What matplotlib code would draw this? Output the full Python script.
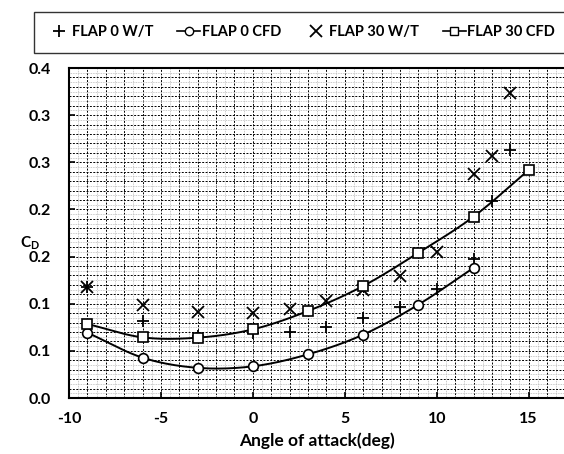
import numpy as np
import matplotlib
matplotlib.use("Agg")
import matplotlib.pyplot as plt
from matplotlib.ticker import MultipleLocator

plt.rcParams['font.family'] = ['Lato', 'DejaVu Sans']
plt.rcParams['font.weight'] = 'bold'
plt.rcParams['axes.unicode_minus'] = False

# wind tunnel data
wt0_aoa = [-9, -6, -3, 0, 2, 4, 6, 8, 10, 12, 13, 14]
wt0_cd = [0.118, 0.082, 0.066, 0.0686, 0.0704, 0.0756, 0.0852, 0.0962, 0.1156, 0.147, 0.2093, 0.263]
wt30_aoa = [-9, -6, -3, 0, 2, 4, 6, 8, 10, 12, 13, 14]
wt30_cd = [0.118, 0.0986, 0.0915, 0.0905, 0.094, 0.1032, 0.1145, 0.1294, 0.155, 0.2376, 0.2567, 0.323]

# CFD data
cfd0_aoa = [-9, -6, -3, 0, 3, 6, 9, 12]
cfd0_cd = [0.0693, 0.0428, 0.032, 0.0336, 0.0463, 0.0672, 0.099, 0.138]
cfd30_aoa = [-9, -6, -3, 0, 3, 6, 9, 12, 15]
cfd30_cd = [0.0785, 0.0643, 0.064, 0.0728, 0.0923, 0.1188, 0.154, 0.1923, 0.2418]

ytick_vals = [0.0, 0.05, 0.10, 0.15, 0.20, 0.25, 0.30, 0.35]
ytick_labels = ['0.0', '0.1', '0.1', '0.2', '0.2', '0.3', '0.3', '0.4']


def smooth(x, y, n=20):
    # catmull-rom style smoothing like excel's smoothed line
    x = np.asarray(x, float)
    y = np.asarray(y, float)
    px = np.concatenate([[2 * x[0] - x[1]], x, [2 * x[-1] - x[-2]]])
    py = np.concatenate([[2 * y[0] - y[1]], y, [2 * y[-1] - y[-2]]])
    xs, ys = [], []
    t = np.linspace(0, 1, n)
    for i in range(1, len(px) - 2):
        for p, out in ((px, xs), (py, ys)):
            p0, p1, p2, p3 = p[i - 1], p[i], p[i + 1], p[i + 2]
            out.extend(0.5 * ((2 * p1) + (-p0 + p2) * t + (2 * p0 - 5 * p1 + 4 * p2 - p3) * t ** 2
                              + (-p0 + 3 * p1 - 3 * p2 + p3) * t ** 3))
    return xs, ys


fig = plt.figure(figsize=(5.64, 4.54), dpi=100)
ax = fig.add_axes([69 / 564, 1 - 398 / 454, 1 - 69 / 564, 330 / 454])

ax.plot(wt0_aoa, wt0_cd, linestyle='none', marker='+', color='black', markersize=8, mew=1.3, label='FLAP 0 W/T')
sx, sy = smooth(cfd0_aoa, cfd0_cd)
ax.plot(sx, sy, color='black', lw=1.4)
ax.plot(cfd0_aoa, cfd0_cd, linestyle='none', marker='o', mfc='white', mec='black', markersize=7, mew=1.2)
ax.plot(wt30_aoa, wt30_cd, linestyle='none', marker='x', color='black', markersize=8, mew=1.3, label='FLAP 30 W/T')
sx, sy = smooth(cfd30_aoa, cfd30_cd)
ax.plot(sx, sy, color='black', lw=1.4)
ax.plot(cfd30_aoa, cfd30_cd, linestyle='none', marker='s', mfc='white', mec='black', markersize=7.5, mew=1.2)

# legend handles for the line + marker series
h_wt0, = ax.plot([], [], linestyle='none', marker='+', color='black', markersize=8, mew=1.3)
h_cfd0, = ax.plot([], [], color='black', lw=1.2, marker='o', mfc='white', mec='black', markersize=6)
h_wt30, = ax.plot([], [], linestyle='none', marker='x', color='black', markersize=8, mew=1.3)
h_cfd30, = ax.plot([], [], color='black', lw=1.2, marker='s', mfc='white', mec='black', markersize=6)

ax.set_xlim(-10, (564 - 70) / 18.35 - 10)
ax.set_ylim(0, 0.35)
ax.xaxis.set_major_locator(MultipleLocator(5))
ax.xaxis.set_minor_locator(MultipleLocator(0.5))
ax.set_yticks(ytick_vals)
ax.set_yticklabels(ytick_labels)
ax.yaxis.set_minor_locator(MultipleLocator(0.005))

# grid: dark dashed every 1 deg / 0.01, light dotted in between
for v in np.arange(-9, 17, 1):
    ax.axvline(v, color='black', lw=0.7, ls=(0, (2, 1.5)), zorder=0)
for v in np.arange(-9.5, 17, 1):
    ax.axvline(v, color='#b8b8b8', lw=0.6, ls=(0, (1, 1)), zorder=0)
for v in np.arange(0.01, 0.35, 0.01):
    ax.axhline(v, color='black', lw=0.7, ls=(0, (2, 1.5)), zorder=0)
for v in np.arange(0.005, 0.35, 0.01):
    ax.axhline(v, color='#b8b8b8', lw=0.6, ls=(0, (1, 1)), zorder=0)

ax.tick_params(which='major', direction='in', length=4, width=1.2, labelsize=11.5)
ax.tick_params(axis='y', pad=13)
ax.tick_params(axis='x', pad=10)
ax.tick_params(which='minor', length=0)
for s in ('left', 'bottom', 'top'):
    ax.spines[s].set_linewidth(1.5)
ax.spines['right'].set_visible(False)
for lab in ax.get_xticklabels() + ax.get_yticklabels():
    lab.set_fontweight('bold')

ax.set_xlabel('Angle of attack(deg)', fontsize=12.5, fontweight='bold', labelpad=5)
fig.text(30 / 564, 1 - 243 / 454, r'C$_\mathregular{D}$', fontsize=11, fontweight='bold', ha='center', va='center')

leg = fig.legend([h_wt0, h_cfd0, h_wt30, h_cfd30],
                 ['FLAP 0 W/T', 'FLAP 0 CFD', 'FLAP 30 W/T', 'FLAP 30 CFD'],
                 loc='upper left', bbox_to_anchor=(27 / 564, 1 - 5 / 454), ncol=4,
                 frameon=True, fancybox=False, edgecolor='black', fontsize=10.5,
                 handlelength=1.6, handletextpad=0.1, columnspacing=1.6, borderpad=0.9)
leg.get_frame().set_linewidth(1.0)
for t in leg.get_texts():
    t.set_fontweight('bold')

fig.savefig('out.png', dpi=100)
